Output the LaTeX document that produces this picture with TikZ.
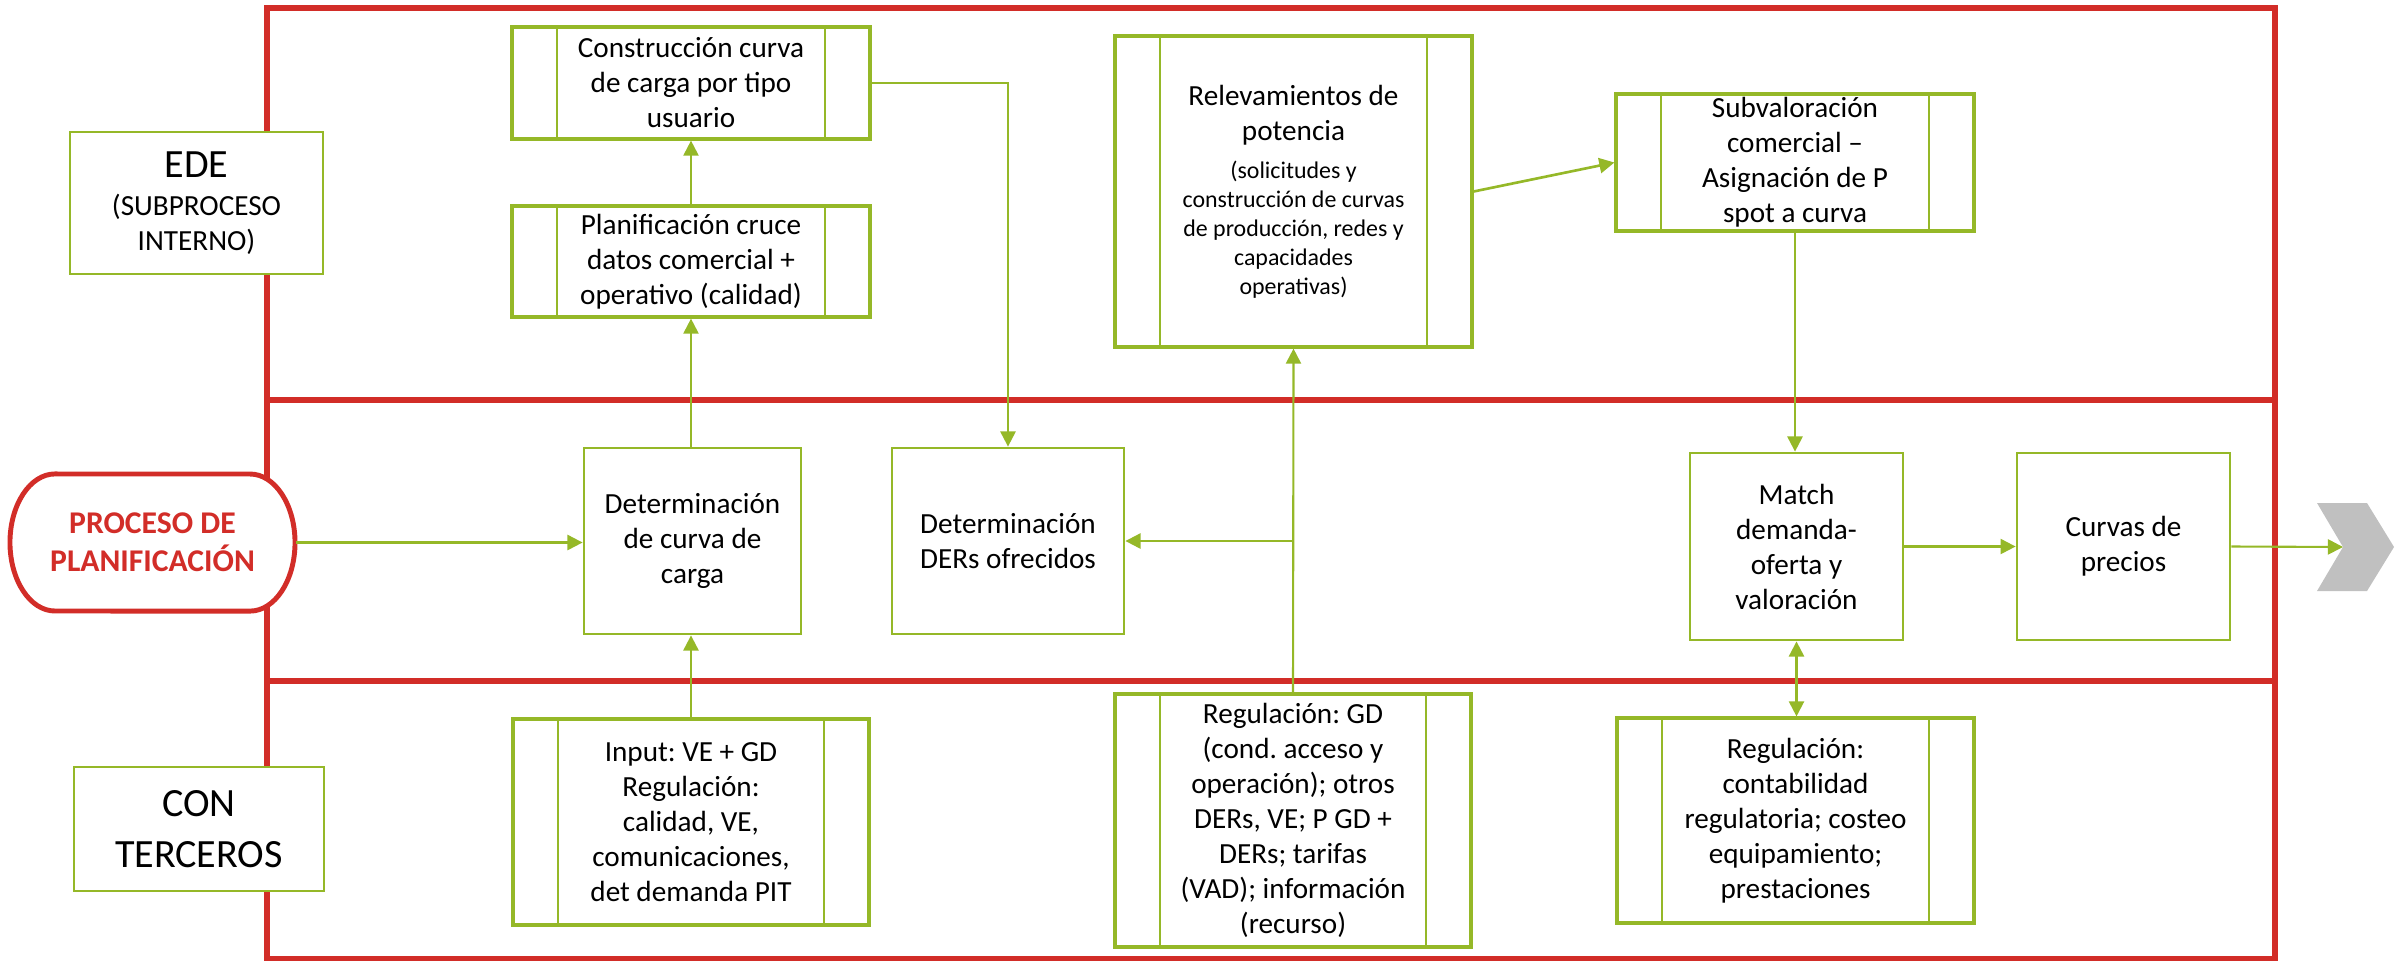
\documentclass[tikz,border=0pt]{standalone}
\usepackage{fontspec}
\setmainfont{Carlito}
\frenchspacing
\usetikzlibrary{arrows.meta,calc}
\definecolor{lanered}{HTML}{D22D28}
\definecolor{leaf}{HTML}{95B828}
\definecolor{chevgray}{HTML}{C0C0C0}

\begin{document}
\begin{tikzpicture}[x=0.01cm,y=-0.01cm,
  box/.style={draw=leaf, line width=0.8pt, fill=white, inner sep=0pt,
    align=center, font=\fontsize{8.3}{9.96}\selectfont},
  procbox/.style={box, line width=0.9pt, path picture={
      \draw[leaf, line width=0.6pt]
        ([xshift=0.45cm]path picture bounding box.north west) --
        ([xshift=0.45cm]path picture bounding box.south west);
      \draw[leaf, line width=0.6pt]
        ([xshift=-0.45cm]path picture bounding box.north east) --
        ([xshift=-0.45cm]path picture bounding box.south east);}},
  sz/.style 2 args={minimum width=#1*0.01cm, minimum height=#2*0.01cm},
  link/.style={draw=leaf, line width=0.6pt},
  arr/.style={link, -{Triangle[length=4.3pt,width=4.3pt]}},
  twoway/.style={link, {Triangle[length=4.3pt,width=4.3pt]}-{Triangle[length=4.3pt,width=4.3pt]}},
  lane/.style={draw=lanered, line width=1.55pt},
]
\useasboundingbox (0,0) rectangle (2400,960);

% swimlane frame
\draw[lane] (267,8) rectangle (2275,959);
\draw[lane] (267,400) -- (2275,400);
\draw[lane] (267,681) -- (2275,681);

% exit chevron
\fill[chevgray] (2317,503) -- (2367,503) -- (2394,547) -- (2367,591)
  -- (2317,591) -- (2343,547) -- cycle;
\coordinate (next) at (2343,547);

% lane labels
\node[box, sz={253}{142}, text width=2.4cm, align=flush center] (ede) at (196.5,203)
  {{\fontsize{11.4}{13}\selectfont EDE}\\[1pt](SUBPROCESO\\INTERNO)};
\node[box, sz={250}{124}, font=\fontsize{11.4}{14.5}\selectfont] (con) at (199,829)
  {CON\\TERCEROS};

% start terminator
\path[fill=white, draw=lanered, line width=1.4pt]
  (55,474) -- (250,474)
  arc[start angle=90, end angle=-90, x radius=0.45cm, y radius=0.685cm]
  -- (55,611)
  arc[start angle=270, end angle=90, x radius=0.45cm, y radius=0.685cm]
  -- cycle;
\node[inner sep=0pt, sz={285}{137}, align=center, text=lanered,
  font=\bfseries\fontsize{9}{10.8}\selectfont] (proc) at (152.5,542.5)
  {PROCESO DE\\PLANIFICACIÓN};

% EDE lane
\node[procbox, sz={358}{112}] (constr) at (691,83)
  {Construcción curva\\de carga por tipo\\usuario};
\node[procbox, sz={358}{111}] (plan) at (691,261.5)
  {Planificación cruce\\datos comercial +\\operativo (calidad)};
\node[procbox, sz={357}{311}, text width=2.6cm, align=flush center] (relev) at (1293.5,191.5)
  {Relevamientos de\\potencia\\[2.5pt]\fontsize{6.8}{8.25}\selectfont
   (solicitudes y\\construcción de curvas\\de producción, redes y\\capacidades\\operativas)\par};
\node[procbox, sz={358}{137}] (subv) at (1795,162.5)
  {Subvaloración\\comercial –\\Asignación de P\\spot a curva};

% planning lane
\node[box, sz={217}{186}] (detc) at (692.5,541)
  {Determinación\\de curva de\\carga};
\node[box, sz={232}{186}] (ders) at (1008,541)
  {Determinación\\DERs ofrecidos};
\node[box, sz={213}{187}] (match) at (1796.5,546.5)
  {Match\\demanda-\\oferta y\\valoración};
\node[box, sz={213}{187}] (curvas) at (2123.5,546.5)
  {Curvas de\\precios};

% third-party lane
\node[procbox, sz={356}{206}] (input) at (691,822)
  {Input: VE + GD\\Regulación:\\calidad, VE,\\comunicaciones,\\det demanda PIT};
\node[procbox, sz={356}{253}] (reggd) at (1293,820.5)
  {Regulación: GD\\(cond. acceso y\\operación); otros\\DERs, VE; P GD +\\DERs; tarifas\\(VAD); información\\(recurso)};
\node[procbox, sz={357}{205}] (regcont) at (1795.5,820.5)
  {Regulación:\\contabilidad\\regulatoria; costeo\\equipamiento;\\prestaciones};

% connectors
\draw[arr] (proc.east) -- (proc.east -| detc.west);
\draw[arr] (input.north) -- (input.north |- detc.south);
\draw[arr] (plan.south |- detc.north) -- (plan.south);
\draw[arr] (plan.north) -- (constr.south);
\draw[arr] (constr.east) -| (ders.north);
\draw[arr] (reggd.north) -- (relev.south);
\coordinate (tap) at (reggd.north |- ders.east);
\draw[arr] (tap) -- (ders.east);
\draw[arr, line width=0.75pt] (relev.east) -- (subv.west);
\draw[arr] (subv.south) -- (subv.south |- match.north);
\draw[twoway] (match.south) -- (match.south |- regcont.north);
\draw[arr] (match.east) -- (curvas.west);
\draw[arr] (curvas.east) -- (next);
\end{tikzpicture}
\end{document}
